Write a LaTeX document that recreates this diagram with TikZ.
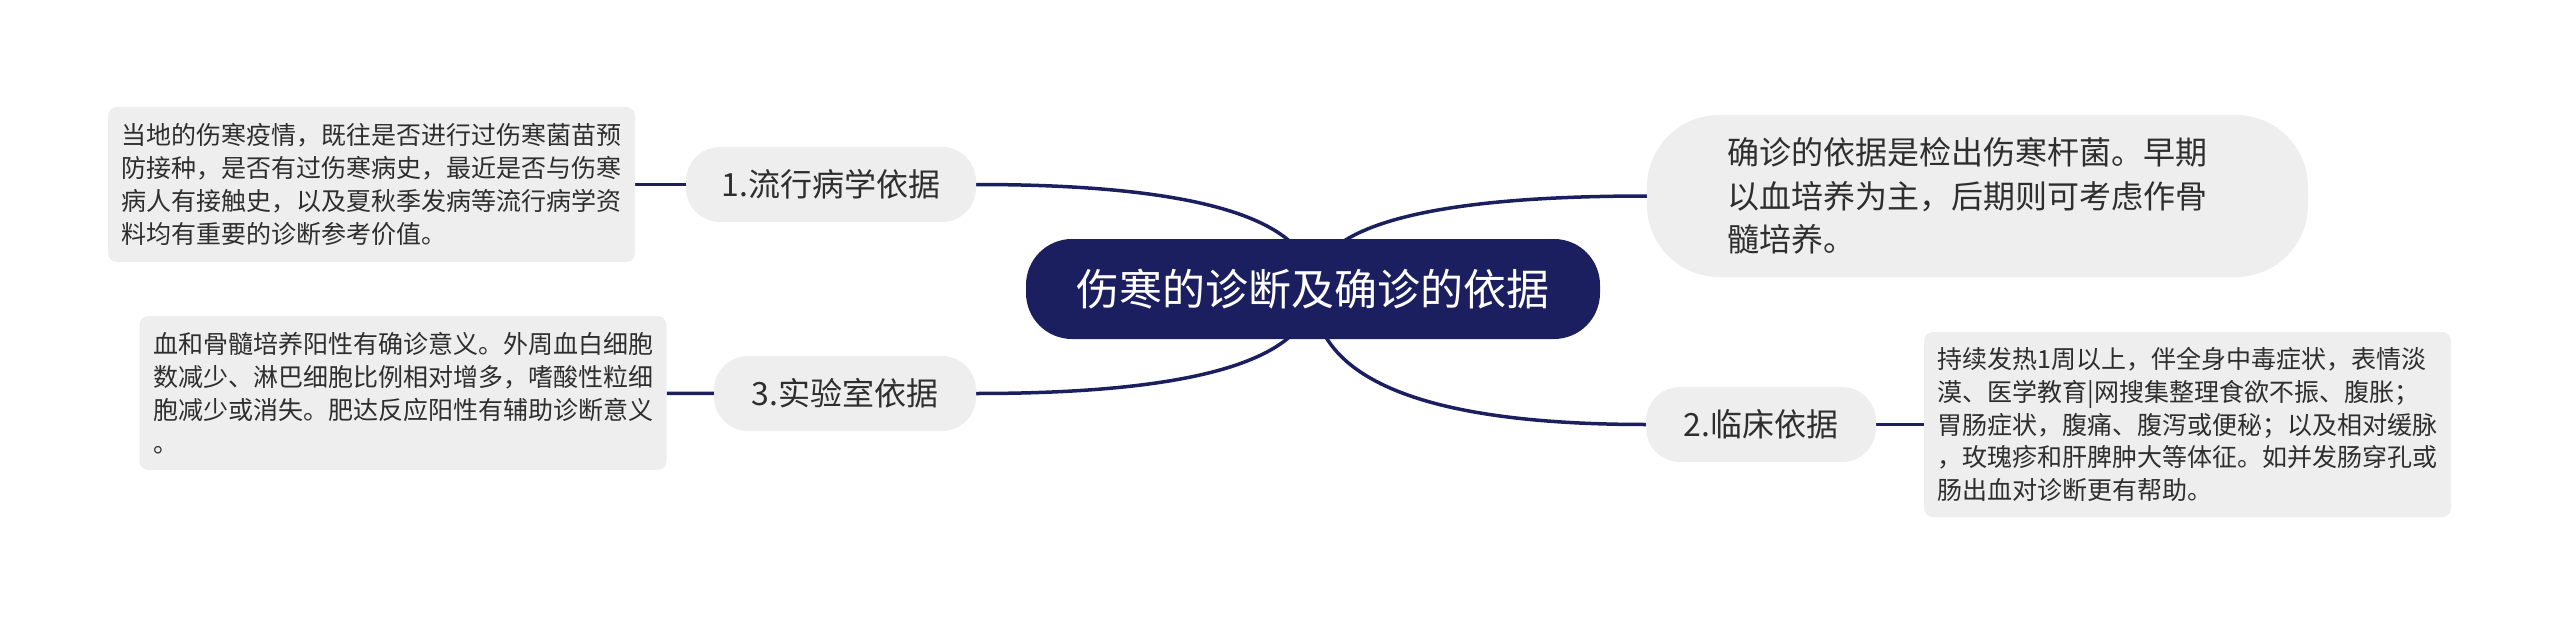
\documentclass[tikz,border=0pt]{standalone}
\usepackage{fontspec}
\usepackage{tikz}
\usetikzlibrary{calc}
\newfontfamily\cjk{Noto Sans CJK SC}
\definecolor{navy}{HTML}{1B1F5F}
\definecolor{bubble}{HTML}{EEEEEE}
\definecolor{ink}{HTML}{2E2E2E}
\pgfdeclarelayer{bg}
\pgfsetlayers{bg,main}

\tikzset{
    rootnode/.style={fill=navy, text=white, font={\cjk\fontsize{43pt}{50pt}\selectfont},
        rounded corners=46pt, minimum width=574pt, minimum height=100pt, inner sep=0pt},
    topic/.style={fill=bubble, text=ink, font={\cjk\fontsize{32pt}{40pt}\selectfont},
        rounded corners=34pt, minimum height=75pt, inner sep=0pt},
    note/.style={fill=bubble, text=ink, font={\cjk\fontsize{25pt}{32.8pt}\selectfont},
        rounded corners=9pt, text width=500pt, align=left, inner xsep=13.5pt, inner ysep=0pt},
    branch/.style={draw=navy, line width=3.5pt,
        to path={.. controls ($(\tikztostart)!2/3!(\tikztostart |- \tikztotarget)$)
            and ($(\tikztotarget)!2/3!(\tikztostart |- \tikztotarget)$) .. (\tikztotarget)}},
    twig/.style={draw=navy, line width=3.5pt}
}

\begin{document}
\begin{tikzpicture}[x=1pt, y=-1pt]
    \useasboundingbox (0, 0) rectangle (2560, 626);

    \node (root) [rootnode] at (1313, 289) {伤寒的诊断及确诊的依据};

    \node (epi) [topic, minimum width=290pt] at (831, 184.5) {1.流行病学依据};
    \node (lab) [topic, minimum width=262pt] at (845, 393.5) {3.实验室依据};
    \node (cli) [topic, minimum width=230pt] at (1761, 424.5) {2.临床依据};

    \node (cfm) [fill=bubble, text=ink, font={\cjk\fontsize{32pt}{43.5pt}\selectfont},
        rounded corners=72pt, minimum width=661pt, minimum height=162pt,
        text width=500pt, align=left, inner sep=0pt] at (1977.5, 196)
        {确诊的依据是检出伤寒杆菌。早期\\以血培养为主，后期则可考虑作骨\\髓培养。};

    \node (epinote) [note, minimum height=155pt] at (371.5, 184.5)
        {当地的伤寒疫情，既往是否进行过伤寒菌苗预\\防接种，是否有过伤寒病史，最近是否与伤寒\\病人有接触史，以及夏秋季发病等流行病学资\\料均有重要的诊断参考价值。};
    \node (labnote) [note, minimum height=154pt] at (403, 393)
        {血和骨髓培养阳性有确诊意义。外周血白细胞\\数减少、淋巴细胞比例相对增多，嗜酸性粒细\\胞减少或消失。肥达反应阳性有辅助诊断意义\\。};
    \node (clinote) [note, minimum height=185pt] at (2187.5, 424.5)
        {持续发热1周以上，伴全身中毒症状，表情淡\\漠、医学教育|网搜集整理食欲不振、腹胀；\\胃肠症状，腹痛、腹泻或便秘；以及相对缓脉\\，玫瑰疹和肝脾肿大等体征。如并发肠穿孔或\\肠出血对诊断更有帮助。};

    \begin{pgfonlayer}{bg}
        \draw (root.center) edge[branch] (epi.east);
        \draw (root.center) edge[branch] (lab.east);
        \draw (root.center) edge[branch] (cfm.west);
        \draw (root.center) edge[branch] (cli.west);
        \draw (epi) edge[twig] (epinote);
        \draw (lab) edge[twig] (labnote);
        \draw (cli) edge[twig] (clinote);
    \end{pgfonlayer}
\end{tikzpicture}
\end{document}
